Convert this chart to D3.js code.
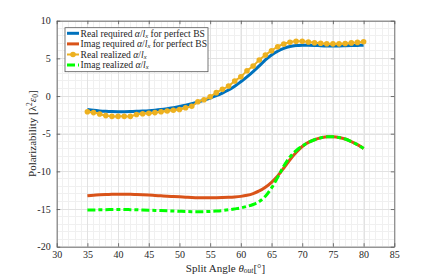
<!DOCTYPE html>
<meta charset="utf-8">
<head>
<style>
  body { margin: 0; background: #fff; }
  svg text { font-family: "Liberation Serif", "Times New Roman", "DejaVu Serif", serif !important; fill: #262626; }
  .grid line { shape-rendering: crispEdges; }
</style>
</head>
<body>
<script src="https://d3js.org/d3.v7.min.js"></script>
<div id="chart"></div>
<script>
// split angles (deg)
var angles = [35, 36, 37, 38, 39, 40, 41, 42, 43, 44, 45, 46, 47, 48, 49, 50, 51, 52, 53, 54, 55, 56, 57,
              58, 59, 60, 61, 62, 63, 64, 65, 66, 67, 68, 69, 70, 71, 72, 73, 74, 75, 76, 77, 78, 79, 80];

var realRequired = [-1.78, -1.9, -1.98, -2.03, -2.06, -2.07, -2.07, -2.06, -2.03, -1.99, -1.94, -1.87, -1.78,
                    -1.67, -1.55, -1.4, -1.23, -1.03, -0.8, -0.55, -0.27, 0.05, 0.4, 0.8, 1.3, 1.9, 2.55, 3.25,
                    4.0, 4.8, 5.45, 5.95, 6.32, 6.57, 6.7, 6.75, 6.74, 6.72, 6.68, 6.65, 6.64, 6.65, 6.67, 6.7,
                    6.72, 6.75];

var imagRequired = [-13.24, -13.17, -13.12, -13.08, -13.05, -13.03, -13.03, -13.05, -13.08, -13.11, -13.15,
                    -13.2, -13.25, -13.3, -13.34, -13.38, -13.42, -13.46, -13.49, -13.5, -13.5, -13.5, -13.48,
                    -13.45, -13.4, -13.32, -13.18, -12.95, -12.6, -12.1, -11.45, -10.6, -9.55, -8.45, -7.5,
                    -6.7, -6.15, -5.8, -5.55, -5.42, -5.4, -5.5, -5.7, -6.05, -6.45, -6.95];

var realRealized = [-2.08, -2.2, -2.38, -2.6, -2.7, -2.7, -2.7, -2.7, -2.45, -2.35, -2.3, -2.2, -2.08, -1.98,
                    -1.88, -1.78, -1.55, -1.35, -0.76, -0.5, -0.1, 0.45, 0.89, 1.33, 2.0, 2.56, 3.36, 3.98,
                    4.78, 5.44, 6.02, 6.55, 6.9, 7.13, 7.26, 7.27, 7.18, 7.08, 7.0, 6.95, 6.92, 6.93, 6.97,
                    7.05, 7.12, 7.2];

var imagRealized = [-15.14, -15.12, -15.1, -15.08, -15.06, -15.05, -15.06, -15.08, -15.1, -15.13, -15.15,
                    -15.18, -15.21, -15.24, -15.27, -15.3, -15.33, -15.35, -15.36, -15.35, -15.32, -15.27,
                    -15.2, -15.1, -14.98, -14.85, -14.65, -14.4, -14.0, -13.3, -12.2, -10.8, -9.3, -8.1,
                    -7.25, -6.65, -6.15, -5.8, -5.55, -5.42, -5.4, -5.5, -5.7, -6.05, -6.45, -6.95];

var xTicks = [30, 35, 40, 45, 50, 55, 60, 65, 70, 75, 80, 85];
var yTicks = [-20, -15, -10, -5, 0, 5, 10];

var W = 436, H = 277;
var margin = { top: 20.7, right: 41.7, bottom: 30.3, left: 56.7 },
    width = W - margin.left - margin.right,
    height = H - margin.top - margin.bottom;

var svg = d3.select("#chart").append("svg")
    .attr("width", W)
    .attr("height", H)
    .attr("font-family", "Liberation Serif")
    .append("g")
    .attr("transform", "translate(" + margin.left + "," + margin.top + ")");

var x = d3.scaleLinear().domain([30, 85]).range([0, width]);
var y = d3.scaleLinear().domain([-20, 10]).range([height, 0]);

// minor grid (every 1 unit)
svg.append("g").attr("class", "grid")
    .selectAll("line.mx").data(d3.range(30, 86, 1)).enter().append("line")
    .attr("x1", function (d) { return x(d); }).attr("x2", function (d) { return x(d); })
    .attr("y1", 0).attr("y2", height)
    .style("stroke", "#f0f0f0").style("stroke-width", 1);
svg.append("g").attr("class", "grid")
    .selectAll("line.my").data(d3.range(-20, 11, 1)).enter().append("line")
    .attr("y1", function (d) { return y(d); }).attr("y2", function (d) { return y(d); })
    .attr("x1", 0).attr("x2", width)
    .style("stroke", "#f0f0f0").style("stroke-width", 1);

// major grid
svg.append("g").attr("class", "grid")
    .call(d3.axisBottom(x).tickValues(xTicks).tickSize(height).tickFormat(""))
    .call(function (g) { g.select(".domain").remove(); })
    .selectAll("line").style("stroke", "#e2e2e2");
svg.append("g").attr("class", "grid")
    .call(d3.axisLeft(y).tickValues(yTicks).tickSize(-width).tickFormat(""))
    .call(function (g) { g.select(".domain").remove(); })
    .selectAll("line").style("stroke", "#e2e2e2");

// axes box with inward ticks
function styleAxis(g) {
    g.attr("font-family", null).attr("font-size", null);
    g.select(".domain").style("stroke", "#555").style("stroke-width", 0.8);
    g.selectAll(".tick line").style("stroke", "#555").style("stroke-width", 0.8);
    g.selectAll("text").style("font-size", "10px");
}
svg.append("g").attr("transform", "translate(0," + height + ")")
    .call(d3.axisBottom(x).tickValues(xTicks).tickSizeInner(-3.5).tickSizeOuter(0).tickPadding(4))
    .call(styleAxis);
svg.append("g")
    .call(d3.axisTop(x).tickValues(xTicks).tickSizeInner(-3.5).tickSizeOuter(0).tickFormat(""))
    .call(styleAxis);
svg.append("g")
    .call(d3.axisLeft(y).tickValues(yTicks).tickSizeInner(-3.5).tickSizeOuter(0).tickPadding(6)
        .tickFormat(function (d) { return d < 0 ? "-" + Math.abs(d) : d; }))
    .call(styleAxis);
svg.append("g").attr("transform", "translate(" + width + ",0)")
    .call(d3.axisRight(y).tickValues(yTicks).tickSizeInner(-3.5).tickSizeOuter(0).tickFormat(""))
    .call(styleAxis);

// series
function pts(vals) { return angles.map(function (a, i) { return [a, vals[i]]; }); }
var line = d3.line()
    .x(function (d) { return x(d[0]); })
    .y(function (d) { return y(d[1]); })
    .curve(d3.curveCatmullRom);

svg.append("path").datum(pts(realRequired)).attr("d", line)
    .style("fill", "none").style("stroke", "#0072BD").style("stroke-width", 3);
svg.append("path").datum(pts(imagRequired)).attr("d", line)
    .style("fill", "none").style("stroke", "#D95319").style("stroke-width", 3);
svg.append("path").datum(pts(realRealized)).attr("d", line)
    .style("fill", "none").style("stroke", "#EDB120").style("stroke-width", 2);
svg.append("g").selectAll("circle").data(pts(realRealized)).enter().append("circle")
    .attr("cx", function (d) { return x(d[0]); })
    .attr("cy", function (d) { return y(d[1]); })
    .attr("r", 2.8)
    .style("fill", "#EDB120");
svg.append("path").datum(pts(imagRealized)).attr("d", line)
    .style("fill", "none").style("stroke", "#00FF00").style("stroke-width", 3)
    .style("stroke-dasharray", "8,3,4,3");

// legend
var leg = svg.append("g").attr("transform", "translate(" + (65 - margin.left) + "," + (27.7 - margin.top) + ")");
leg.append("rect").attr("width", 143).attr("height", 44)
    .style("fill", "#fff").style("stroke", "#555").style("stroke-width", 0.8);
var entries = [
    { pre: "Real required ", post: " for perfect BS", color: "#0072BD", dash: null, marker: false },
    { pre: "Imag required ", post: " for perfect BS", color: "#D95319", dash: null, marker: false },
    { pre: "Real realized ", post: "", color: "#EDB120", dash: null, marker: true },
    { pre: "Imag realized ", post: "", color: "#00FF00", dash: "8,3", marker: false }
];
entries.forEach(function (e, i) {
    var cy = 5.6 + i * 10.6;
    leg.append("line").attr("x1", 2).attr("x2", 14).attr("y1", cy).attr("y2", cy)
        .style("stroke", e.color).style("stroke-width", e.marker ? 2 : 3)
        .style("stroke-dasharray", e.dash);
    if (e.marker) {
        leg.append("circle").attr("cx", 8).attr("cy", cy).attr("r", 2.8).style("fill", e.color);
    }
    var t = leg.append("text").attr("x", 15.5).attr("y", cy + 3.2).style("font-size", "9.6px");
    t.append("tspan").text(e.pre);
    t.append("tspan").style("font-style", "italic").text("α");
    t.append("tspan").text("/");
    t.append("tspan").style("font-style", "italic").text("l");
    t.append("tspan").style("font-style", "italic").style("font-size", "6.5px").attr("dy", 1.2).text("x");
    t.append("tspan").attr("dy", -1.2).text(e.post);
});

// axis labels
var xl = svg.append("text").attr("x", width / 2).attr("y", height + 25)
    .attr("text-anchor", "middle").style("font-size", "11px");
xl.append("tspan").text("Split Angle ");
xl.append("tspan").style("font-style", "italic").text("θ");
xl.append("tspan").style("font-style", "italic").style("font-size", "7.5px").attr("dy", 1.5).text("out");
xl.append("tspan").attr("dy", -1.5).text("[°]");

var yl = svg.append("text")
    .attr("transform", "translate(" + (36 - margin.left) + "," + (height / 2) + ") rotate(-90)")
    .attr("text-anchor", "middle").style("font-size", "11px");
yl.append("tspan").text("Polarizability [λ");
yl.append("tspan").style("font-size", "7.5px").attr("dy", -4).text("2");
yl.append("tspan").attr("dy", 4).style("font-style", "italic").text("ε");
yl.append("tspan").style("font-size", "7.5px").attr("dy", 2).text("0");
yl.append("tspan").attr("dy", -2).text("]");
</script>
</body>
